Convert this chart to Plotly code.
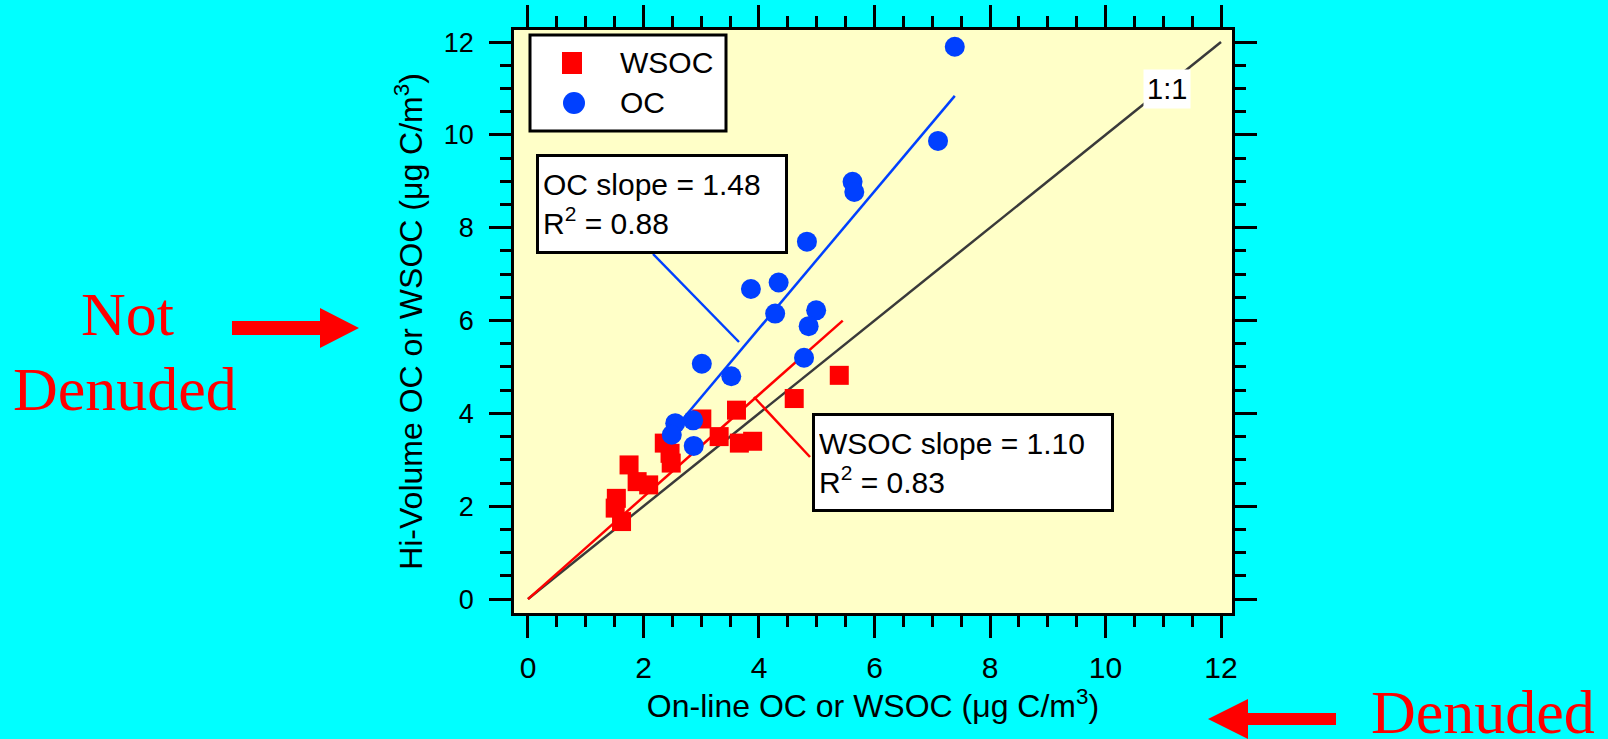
import plotly.graph_objects as go

# ---------------- data ----------------
wsoc_x = [5.39, 4.61, 3.61, 3.01, 3.31, 3.66, 3.89, 2.36, 2.46, 2.48, 1.75, 1.89, 2.09, 1.53, 1.51, 1.62]
wsoc_y = [4.82, 4.32, 4.07, 3.88, 3.50, 3.36, 3.40, 3.36, 3.14, 2.93, 2.89, 2.53, 2.46, 2.17, 1.96, 1.67]

oc_x = [7.39, 7.10, 5.62, 5.65, 4.83, 3.86, 4.34, 4.28, 4.99, 4.86, 4.78, 3.01, 3.52, 2.55, 2.86, 2.49, 2.87]
oc_y = [11.90, 9.87, 8.99, 8.77, 7.70, 6.68, 6.82, 6.15, 6.22, 5.88, 5.20, 5.07, 4.80, 3.79, 3.85, 3.54, 3.30]

one_to_one_x = [0, 12]
one_to_one_y = [0, 12]
wsoc_fit_x = [0.0, 5.45]
wsoc_fit_y = [0.0, 6.00]
oc_fit_x = [2.58, 7.39]
oc_fit_y = [3.73, 10.84]

x_tickvals = [0, 2, 4, 6, 8, 10, 12]
y_tickvals = [0, 2, 4, 6, 8, 10, 12]

# ---------------- layout geometry (pixels) ----------------
WIDTH, HEIGHT = 1608, 739
L, R, T, B = 514, 1232, 30, 613
PW, PH = R - L, B - T


def pxx(p):
    return (p - L) / PW


def pxy(p):
    return (B - p) / PH


def path(points):
    s = "M " + " L ".join(f"{pxx(x):.5f},{pxy(y):.5f}" for x, y in points) + " Z"
    return s


RED = "#FF0000"
BLUE = "#0040FF"
FONT = "Liberation Sans, Arial, sans-serif"
SERIF = "Liberation Serif, Times New Roman, serif"

fig = go.Figure()

fig.add_trace(go.Scatter(x=one_to_one_x, y=one_to_one_y, mode="lines",
                         line=dict(color="#3A3A3A", width=2.5), showlegend=False, hoverinfo="skip"))
fig.add_trace(go.Scatter(x=wsoc_fit_x, y=wsoc_fit_y, mode="lines",
                         line=dict(color=RED, width=2.5), showlegend=False, hoverinfo="skip"))
fig.add_trace(go.Scatter(x=oc_fit_x, y=oc_fit_y, mode="lines",
                         line=dict(color=BLUE, width=2.5), showlegend=False, hoverinfo="skip"))
fig.add_trace(go.Scatter(x=wsoc_x, y=wsoc_y, mode="markers", name="WSOC",
                         marker=dict(symbol="square", size=19, color=RED, line=dict(width=0)),
                         showlegend=False))
fig.add_trace(go.Scatter(x=oc_x, y=oc_y, mode="markers", name="OC",
                         marker=dict(symbol="circle", size=20, color=BLUE, line=dict(width=0)),
                         showlegend=False))

axis_common = dict(
    showline=True, linecolor="black", linewidth=2.5, mirror="ticks",
    ticks="outside", ticklen=22, tickwidth=2.5, tickcolor="black",
    showgrid=False, zeroline=False,
    minor=dict(dtick=0.5, ticks="outside", ticklen=11, tickwidth=2.5, tickcolor="black", showgrid=False),
)

fig.update_xaxes(range=[-0.242, 12.19], tickvals=x_tickvals, ticktext=[str(v) for v in x_tickvals],
                 tickfont=dict(family=FONT, size=30, color="black"),
                 title=dict(text="On-line OC or WSOC (\u03bcg C/m<sup>3</sup>)",
                            font=dict(family=FONT, size=32, color="black"), standoff=12),
                 ticklabelstandoff=4,
                 **axis_common)
fig.update_yaxes(range=[-0.30, 12.26], tickvals=y_tickvals, ticktext=[str(v) for v in y_tickvals],
                 tickfont=dict(family=FONT, size=27, color="black"),
                 title=dict(text="Hi-Volume OC or WSOC (\u03bcg C/m<sup>3</sup>)",
                            font=dict(family=FONT, size=32, color="black"), standoff=12),
                 ticklabelstandoff=10,
                 **axis_common)

shapes = []
# legend box
shapes.append(dict(type="rect", xref="paper", yref="paper", x0=pxx(530), x1=pxx(726), y0=pxy(131), y1=pxy(35),
                   line=dict(color="black", width=3), fillcolor="white", layer="above"))
shapes.append(dict(type="rect", xref="paper", yref="paper", x0=pxx(562), x1=pxx(582), y0=pxy(74), y1=pxy(52),
                   line=dict(width=0), fillcolor=RED, layer="above"))
shapes.append(dict(type="circle", xref="paper", yref="paper", x0=pxx(563), x1=pxx(585), y0=pxy(114), y1=pxy(92),
                   line=dict(width=0), fillcolor=BLUE, layer="above"))
# leader lines
shapes.append(dict(type="line", xref="paper", yref="paper", x0=pxx(653), y0=pxy(254), x1=pxx(739), y1=pxy(342),
                   line=dict(color=BLUE, width=2.5), layer="above"))
shapes.append(dict(type="line", xref="paper", yref="paper", x0=pxx(754), y0=pxy(397), x1=pxx(810), y1=pxy(457),
                   line=dict(color=RED, width=2.5), layer="above"))
# outside arrows
shapes.append(dict(type="path", xref="paper", yref="paper",
                   path=path([(232, 321), (320, 321), (320, 308), (359, 328), (320, 348), (320, 335), (232, 335)]),
                   fillcolor=RED, line=dict(width=0), layer="above"))
shapes.append(dict(type="path", xref="paper", yref="paper",
                   path=path([(1336, 713), (1248, 713), (1248, 699), (1208, 719), (1248, 739), (1248, 725), (1336, 725)]),
                   fillcolor=RED, line=dict(width=0), layer="above"))

annotations = [
    dict(xref="paper", yref="paper", x=pxx(618), y=pxy(63), xanchor="left", yanchor="middle",
         text="WSOC", showarrow=False, font=dict(family=FONT, size=30, color="black")),
    dict(xref="paper", yref="paper", x=pxx(618), y=pxy(103), xanchor="left", yanchor="middle",
         text="OC", showarrow=False, font=dict(family=FONT, size=30, color="black")),
    dict(xref="paper", yref="paper", x=pxx(536), y=pxy(154), xanchor="left", yanchor="top",
         text="OC slope = 1.48<br>R<sup>2</sup> = 0.88", showarrow=False, align="left",
         width=238, height=86, bgcolor="white", bordercolor="black", borderwidth=3, borderpad=4,
         font=dict(family=FONT, size=30, color="black")),
    dict(xref="paper", yref="paper", x=pxx(812), y=pxy(413), xanchor="left", yanchor="top",
         text="WSOC slope = 1.10<br>R<sup>2</sup> = 0.83", showarrow=False, align="left",
         width=288, height=85, bgcolor="white", bordercolor="black", borderwidth=3, borderpad=4,
         font=dict(family=FONT, size=30, color="black")),
    dict(xref="paper", yref="paper", x=pxx(1167), y=pxy(89.5), xanchor="center", yanchor="middle",
         text="1:1", showarrow=False, bgcolor="white", borderpad=3,
         font=dict(family=FONT, size=29, color="black")),
    dict(xref="paper", yref="paper", x=pxx(127), y=pxy(314), xanchor="center", yanchor="middle",
         text="Not", showarrow=False, font=dict(family=SERIF, size=62, color=RED)),
    dict(xref="paper", yref="paper", x=pxx(125.5), y=pxy(389), xanchor="center", yanchor="middle",
         text="Denuded", showarrow=False, font=dict(family=SERIF, size=62, color=RED)),
    dict(xref="paper", yref="paper", x=pxx(1483), y=pxy(712), xanchor="center", yanchor="middle",
         text="Denuded", showarrow=False, font=dict(family=SERIF, size=62, color=RED)),
]

fig.update_layout(
    width=WIDTH, height=HEIGHT,
    margin=dict(l=L, r=WIDTH - R, t=T, b=HEIGHT - B, autoexpand=False),
    paper_bgcolor="#00FFFF", plot_bgcolor="#FFFFC8",
    showlegend=False,
    shapes=shapes, annotations=annotations,
    font=dict(family=FONT, color="black"),
)

fig.write_html("out.html")
